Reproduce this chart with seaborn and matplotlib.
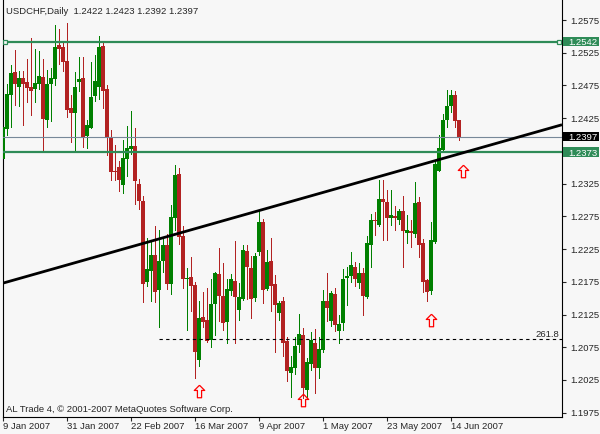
import numpy as np
import pandas as pd
import matplotlib
matplotlib.use("Agg")
import matplotlib.pyplot as plt
import matplotlib.transforms as mtransforms
from matplotlib.patches import Rectangle
from matplotlib.path import Path
import seaborn as sns

# USDCHF daily bars, 9 Jan 2007 .. mid Jun 2007
opens = [1.2362, 1.2409, 1.2460, 1.2495, 1.2472, 1.2486, 1.2480, 1.2473, 1.2469, 1.2478,
         1.2488, 1.2423, 1.2478, 1.2485, 1.2537, 1.2534, 1.2512, 1.2441, 1.2433, 1.2481,
         1.2487, 1.2398, 1.2410, 1.2459, 1.2473, 1.2535, 1.2470, 1.2396, 1.2345, 1.2350,
         1.2323, 1.2363, 1.2378, 1.2382, 1.2324, 1.2298, 1.2174, 1.2192, 1.2216, 1.2162,
         1.2207, 1.2231, 1.2171, 1.2272, 1.2340, 1.2245, 1.2179, 1.2182, 1.2170, 1.2056,
         1.2121, 1.2117, 1.2086, 1.2141, 1.2187, 1.2153, 1.2114, 1.2161, 1.2177, 1.2132,
         1.2149, 1.2222, 1.2196, 1.2151, 1.2220, 1.2266, 1.2164, 1.2207, 1.2171, 1.2127,
         1.2146, 1.2084, 1.2035, 1.2043, 1.2079, 1.2094, 1.2010, 1.2050, 1.2082, 1.2044,
         1.2071, 1.2146, 1.2115, 1.2157, 1.2100, 1.2112, 1.2181, 1.2184, 1.2197, 1.2173,
         1.2188, 1.2152, 1.2231, 1.2269, 1.2262, 1.2302, 1.2297, 1.2273, 1.2275, 1.2269,
         1.2283, 1.2250, 1.2252, 1.2248, 1.2297, 1.2234, 1.2178, 1.2161, 1.2236, 1.2345,
         1.2376, 1.2422, 1.2443, 1.2460, 1.2422]
highs = [1.2431, 1.2477, 1.2506, 1.2529, 1.2497, 1.2497, 1.2516, 1.2547, 1.2531, 1.2528,
         1.2515, 1.2499, 1.2501, 1.2567, 1.2562, 1.2542, 1.2570, 1.2460, 1.2495, 1.2518,
         1.2518, 1.2422, 1.2511, 1.2521, 1.2550, 1.2540, 1.2476, 1.2407, 1.2384, 1.2360,
         1.2392, 1.2413, 1.2436, 1.2410, 1.2332, 1.2306, 1.2242, 1.2236, 1.2261, 1.2254,
         1.2240, 1.2248, 1.2293, 1.2353, 1.2349, 1.2260, 1.2196, 1.2213, 1.2174, 1.2146,
         1.2160, 1.2165, 1.2179, 1.2190, 1.2227, 1.2203, 1.2180, 1.2187, 1.2237, 1.2173,
         1.2232, 1.2231, 1.2214, 1.2219, 1.2283, 1.2271, 1.2224, 1.2242, 1.2186, 1.2146,
         1.2152, 1.2090, 1.2062, 1.2090, 1.2126, 1.2104, 1.2058, 1.2099, 1.2103, 1.2090,
         1.2162, 1.2189, 1.2161, 1.2166, 1.2124, 1.2195, 1.2198, 1.2220, 1.2206, 1.2204,
         1.2196, 1.2245, 1.2278, 1.2281, 1.2330, 1.2330, 1.2316, 1.2315, 1.2291, 1.2287,
         1.2306, 1.2277, 1.2269, 1.2328, 1.2305, 1.2240, 1.2180, 1.2267, 1.2359, 1.2399,
         1.2431, 1.2468, 1.2468, 1.2466, 1.2423]
lows = [1.2337, 1.2400, 1.2411, 1.2445, 1.2443, 1.2414, 1.2450, 1.2430, 1.2449, 1.2469,
        1.2375, 1.2411, 1.2421, 1.2475, 1.2508, 1.2497, 1.2427, 1.2389, 1.2375, 1.2466,
        1.2381, 1.2379, 1.2410, 1.2452, 1.2455, 1.2441, 1.2369, 1.2331, 1.2331, 1.2314,
        1.2311, 1.2337, 1.2370, 1.2294, 1.2287, 1.2144, 1.2169, 1.2146, 1.2144, 1.2106,
        1.2190, 1.2164, 1.2157, 1.2254, 1.2233, 1.2166, 1.2102, 1.2131, 1.2028, 1.2047,
        1.2106, 1.2083, 1.2075, 1.2094, 1.2115, 1.2102, 1.2082, 1.2155, 1.2082, 1.2116,
        1.2147, 1.2148, 1.2120, 1.2146, 1.2216, 1.2142, 1.2162, 1.2130, 1.2067, 1.2117,
        1.2061, 1.2023, 1.1999, 1.2034, 1.2067, 1.1997, 1.1997, 1.2040, 1.2005, 1.2028,
        1.2068, 1.2115, 1.2108, 1.2100, 1.2081, 1.2101, 1.2139, 1.2175, 1.2169, 1.2166,
        1.2125, 1.2151, 1.2197, 1.2246, 1.2261, 1.2239, 1.2239, 1.2262, 1.2254, 1.2263,
        1.2198, 1.2234, 1.2228, 1.2244, 1.2213, 1.2160, 1.2145, 1.2157, 1.2234, 1.2344,
        1.2375, 1.2412, 1.2435, 1.2412, 1.2392]
closes = [1.2411, 1.2462, 1.2494, 1.2478, 1.2486, 1.2478, 1.2471, 1.2467, 1.2479, 1.2489,
          1.2424, 1.2477, 1.2486, 1.2534, 1.2530, 1.2511, 1.2438, 1.2433, 1.2473, 1.2485,
          1.2395, 1.2414, 1.2457, 1.2482, 1.2534, 1.2467, 1.2396, 1.2343, 1.2343, 1.2331,
          1.2364, 1.2379, 1.2382, 1.2329, 1.2299, 1.2172, 1.2195, 1.2216, 1.2160, 1.2207,
          1.2231, 1.2172, 1.2274, 1.2338, 1.2243, 1.2180, 1.2181, 1.2168, 1.2068, 1.2119,
          1.2114, 1.2084, 1.2141, 1.2189, 1.2154, 1.2112, 1.2164, 1.2179, 1.2152, 1.2152,
          1.2224, 1.2197, 1.2149, 1.2215, 1.2266, 1.2162, 1.2206, 1.2169, 1.2140, 1.2142,
          1.2081, 1.2038, 1.2045, 1.2077, 1.2095, 1.2012, 1.2053, 1.2086, 1.2044, 1.2072,
          1.2146, 1.2135, 1.2158, 1.2109, 1.2110, 1.2180, 1.2184, 1.2200, 1.2180, 1.2189,
          1.2154, 1.2234, 1.2269, 1.2268, 1.2302, 1.2297, 1.2273, 1.2277, 1.2273, 1.2283,
          1.2252, 1.2254, 1.2250, 1.2295, 1.2231, 1.2175, 1.2160, 1.2239, 1.2355, 1.2379,
          1.2422, 1.2444, 1.2460, 1.2421, 1.2397]

date_ticks = [0, 16, 32, 48, 64, 80, 96, 112]
date_labels = ["9 Jan 2007", "31 Jan 2007", "22 Feb 2007", "16 Mar 2007",
               "9 Apr 2007", "1 May 2007", "23 May 2007", "14 Jun 2007"]
price_ticks = [1.1975, 1.2025, 1.2075, 1.2125, 1.2175, 1.2225, 1.2275,
               1.2325, 1.2375, 1.2425, 1.2475, 1.2525, 1.2575]

resistance = 1.2542
support = 1.2373
bid = 1.2397
fib_level = 1.2087
fib_start = 39
trend_x = [0, 139.75]
trend_y = [1.2173, 1.2415]
arrow_idx = [49, 75, 107, 115]
arrow_price = [1.2008, 1.1995, 1.2117, 1.2344]

df = pd.DataFrame({"Open": opens, "High": highs, "Low": lows, "Close": closes})
df["idx"] = np.arange(len(df))
df["up"] = df["Close"] >= df["Open"]

BG = "#F7F7F7"
GREEN = "#008000"
RED = "#B22222"
SEA = "#2E8B57"

sns.set_style("white", {"axes.facecolor": BG, "figure.facecolor": BG,
                        "axes.edgecolor": "black"})
plt.rcParams["font.family"] = ["Liberation Sans", "DejaVu Sans"]
FS = 6.8

fig = plt.figure(figsize=(6, 4.34), dpi=100)
ax = fig.add_axes([2.7 / 600, 17.5 / 434, 559.3 / 600, 416.5 / 434])
ax.set_xlim(-0.075, 139.75)
ax.set_ylim(1.19692, 1.26056)

# candles
colors = np.where(df["up"], GREEN, RED)
ax.vlines(df["idx"], df["Low"], df["High"], colors=colors, linewidth=0.72,
          antialiased=False, zorder=2)
body_lo = df[["Open", "Close"]].min(axis=1)
body_h = (df["Open"] - df["Close"]).abs().clip(lower=0.00016)
ax.bar(df["idx"], body_h, bottom=body_lo, width=0.78, color=colors, linewidth=0,
       zorder=3)

# horizontal levels
ax.axhline(resistance, color=SEA, lw=1.6, zorder=4)
ax.plot([0.5, 139.0], [resistance, resistance], ls="none", marker="s", ms=3.2,
        mfc=BG, mec=SEA, mew=0.9, zorder=5)
ax.axhline(support, color=SEA, lw=1.6, zorder=4)
ax.axhline(bid, color="#778899", lw=0.8, zorder=4)
ax.hlines(fib_level, fib_start, 139.75, color="black", lw=0.8, ls=(0, (3, 3)), zorder=4)
ax.text(139.0, fib_level + 0.0001, "261.8", ha="right", va="bottom", fontsize=FS)

# trend line
ax.plot(trend_x, trend_y, color="black", lw=2.0, zorder=6, solid_capstyle="butt")

# up arrows
arrow = Path([(0, 6), (5, 1), (2, 1), (2, -6), (-2, -6), (-2, 1), (-5, 1), (0, 6)])
ax.plot(arrow_idx, arrow_price, ls="none", marker=arrow, ms=9, mfc="none",
        mec="red", mew=0.9, zorder=6)

# axes styling
for side in ["left", "right", "bottom"]:
    ax.spines[side].set_visible(True)
    ax.spines[side].set_linewidth(0.8)
ax.spines["top"].set_visible(False)

ax.set_xticks(date_ticks)
ax.set_xticklabels(date_labels)
for lab in ax.get_xticklabels():
    lab.set_ha("left")
ax.tick_params(axis="x", bottom=True, length=3, width=0.8, pad=1, labelsize=FS,
               direction="out")

# scale labels; the ones sitting under a price box are hidden, as on the terminal
boxed = [resistance, bid, support]
ax.yaxis.tick_right()
ax.set_yticks(price_ticks)
ax.set_yticklabels(["" if min(abs(p - b) for b in boxed) < 0.0008 else f"{p:.4f}"
                    for p in price_ticks])
ax.tick_params(axis="y", right=True, left=False, length=3, width=0.8, pad=3,
               labelsize=FS, direction="out")

# price boxes on the scale
blend = mtransforms.blended_transform_factory(fig.transFigure, ax.transData)
box_h = 9.5 / 6545
for val, col in [(resistance, SEA), (bid, "black"), (support, SEA)]:
    fig.add_artist(Rectangle((563 / 600, val - box_h / 2), 36 / 600, box_h,
                             transform=blend, facecolor=col, edgecolor="none", zorder=5))
    fig.text(568.5 / 600, val, f"{val:.4f}", transform=blend, color="white",
             fontsize=FS, va="center_baseline", ha="left", zorder=6)

fig.text(6 / 600, 1 - 14.3 / 434, "USDCHF,Daily  1.2422 1.2423 1.2392 1.2397",
         fontsize=FS, va="baseline", ha="left")
fig.text(6 / 600, 1 - 411.5 / 434, "AL Trade 4, © 2001-2007 MetaQuotes Software Corp.",
         fontsize=FS, va="baseline", ha="left")

fig.savefig("out.png", dpi=100, facecolor=BG)
